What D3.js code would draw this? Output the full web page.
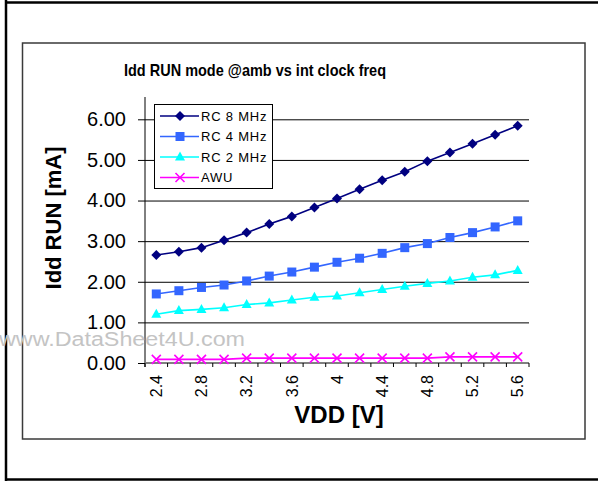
<!DOCTYPE html>
<html>
<head>
<meta charset="utf-8">
<script src="https://cdn.jsdelivr.net/npm/d3@7"></script>
<style>
  html, body { margin: 0; padding: 0; background: #fff; }
  svg { display: block; }
  text { font-family: "Liberation Sans", Arial, sans-serif; }
</style>
</head>
<body>
<svg id="chart" width="598" height="481"></svg>
<script>
const vdd = ["2.4","2.6","2.8","3","3.2","3.4","3.6","3.8","4","4.2","4.4","4.6","4.8","5","5.2","5.4","5.6"];
const shownLabels = ["2.4","2.8","3.2","3.6","4","4.4","4.8","5.2","5.6"];
const rc8 = [2.66,2.74,2.84,3.02,3.21,3.42,3.61,3.83,4.05,4.28,4.50,4.71,4.97,5.18,5.40,5.62,5.84];
const rc4 = [1.70,1.78,1.86,1.92,2.02,2.14,2.24,2.36,2.48,2.58,2.70,2.84,2.94,3.09,3.21,3.35,3.50];
const rc2 = [1.20,1.29,1.32,1.36,1.44,1.48,1.55,1.62,1.65,1.73,1.81,1.89,1.96,2.02,2.11,2.17,2.28];
const awu = [0.09,0.09,0.09,0.09,0.12,0.12,0.12,0.12,0.12,0.12,0.12,0.12,0.12,0.15,0.15,0.15,0.15];
const yTicks = [0,1,2,3,4,5,6];
const seriesNames = ["RC 8 MHz","RC 4 MHz","RC 2 MHz","AWU"];
const seriesColors = ["#000080","#3366FF","#00FFFF","#FF00FF"];
const seriesMarkers = ["diamond","square","triangle","cross"];
const title = "Idd RUN mode @amb vs int clock freq";
const xTitle = "VDD [V]";
const yTitle = "Idd RUN [mA]";

const series = [rc8, rc4, rc2, awu].map((vals, i) => ({
  name: seriesNames[i], color: seriesColors[i], marker: seriesMarkers[i], values: vals
}));

const svg = d3.select("#chart");

// outer frame (left, top, bottom)
svg.append("line").attr("x1", 6).attr("x2", 6).attr("y1", 0).attr("y2", 481).attr("stroke", "#000").attr("stroke-width", 2.5);
svg.append("line").attr("x1", 5).attr("x2", 598).attr("y1", 2.5).attr("y2", 2.5).attr("stroke", "#000").attr("stroke-width", 2.5);
svg.append("line").attr("x1", 5).attr("x2", 598).attr("y1", 479.5).attr("y2", 479.5).attr("stroke", "#000").attr("stroke-width", 2.5);

// chart box
svg.append("rect").attr("x", 22.5).attr("y", 43).attr("width", 562.5).attr("height", 396)
  .attr("fill", "#fff").attr("stroke", "#3a3a3a").attr("stroke-width", 1.5);

const pLeft = 145, pRight = 529, pTop = 99, pBottom = 363;
const x = d3.scaleBand().domain(vdd).range([pLeft, pRight]).padding(0);
const y = d3.scaleLinear().domain([0, 6.5]).range([pBottom, pTop]);

// title
svg.append("text").attr("x", 255).attr("y", 76).attr("text-anchor", "middle")
  .attr("font-size", 17).attr("font-weight", "bold")
  .attr("textLength", 262).attr("lengthAdjust", "spacingAndGlyphs").text(title);

// gridlines + y axis
const yAxis = d3.axisLeft(y).tickValues(yTicks).tickFormat(d3.format(".2f"))
  .tickSize(-(pRight - pLeft)).tickPadding(12);
const gy = svg.append("g").attr("transform", `translate(${pLeft},0)`).call(yAxis);
gy.select(".domain").remove();
gy.selectAll(".tick line").attr("stroke", "#000").attr("stroke-width", 1)
  .attr("x1", -7);
gy.selectAll(".tick text").attr("font-size", 20).attr("fill", "#000")
  .attr("font-family", "Liberation Sans, Arial, sans-serif").attr("x", -19);
svg.append("line").attr("x1", pLeft).attr("x2", pLeft).attr("y1", pTop - 2).attr("y2", pBottom + 4)
  .attr("stroke", "#000").attr("stroke-width", 1);

// x axis
svg.append("line").attr("x1", pLeft).attr("x2", pRight).attr("y1", pBottom).attr("y2", pBottom)
  .attr("stroke", "#808080").attr("stroke-width", 2);
const boundaries = vdd.map(v => x(v)).concat([x(vdd[vdd.length - 1]) + x.bandwidth()]);
svg.append("g").selectAll("line").data(boundaries).join("line")
  .attr("x1", d => d).attr("x2", d => d).attr("y1", pBottom).attr("y2", pBottom + 4)
  .attr("stroke", "#000").attr("stroke-width", 1);
svg.append("g").selectAll("text").data(shownLabels).join("text")
  .attr("transform", d => `translate(${x(d) + x.bandwidth() / 2},${pBottom + 12}) rotate(-90)`)
  .attr("text-anchor", "end").attr("dy", "0.36em")
  .attr("font-size", 16).text(d => d);

// axis titles
svg.append("text").attr("x", 339).attr("y", 423).attr("text-anchor", "middle")
  .attr("font-size", 24).attr("font-weight", "bold").text(xTitle);
svg.append("text").attr("transform", "translate(61,218) rotate(-90)").attr("text-anchor", "middle")
  .attr("font-size", 22).attr("font-weight", "bold").text(yTitle);

// markers
function drawMarker(g, type, color) {
  if (type === "diamond") {
    g.append("path").attr("d", "M0,-5L5,0L0,5L-5,0Z").attr("fill", color);
  } else if (type === "square") {
    g.append("rect").attr("x", -4.5).attr("y", -4.5).attr("width", 9).attr("height", 9).attr("fill", color);
  } else if (type === "triangle") {
    g.append("path").attr("d", "M0,-5.5L5,3.5L-5,3.5Z").attr("fill", color);
  } else {
    g.append("path").attr("d", "M-4.5,-4.5L4.5,4.5M-4.5,4.5L4.5,-4.5").attr("stroke", color).attr("stroke-width", 1.6).attr("fill", "none");
  }
}

const line = d3.line().x((d, i) => x(vdd[i]) + x.bandwidth() / 2).y(d => y(d));
series.forEach(s => {
  svg.append("path").datum(s.values).attr("d", line).attr("fill", "none")
    .attr("stroke", s.color).attr("stroke-width", 1.6);
  s.values.forEach((v, i) => {
    const g = svg.append("g").attr("transform", `translate(${x(vdd[i]) + x.bandwidth() / 2},${y(v)})`);
    drawMarker(g, s.marker, s.color);
  });
});

// legend
const lg = svg.append("g");
lg.append("rect").attr("x", 154.5).attr("y", 104.5).attr("width", 118).attr("height", 84)
  .attr("fill", "#fff").attr("stroke", "#000").attr("stroke-width", 1);
series.forEach((s, i) => {
  const cy = 116 + i * 20.5;
  lg.append("line").attr("x1", 160).attr("x2", 199).attr("y1", cy).attr("y2", cy)
    .attr("stroke", s.color).attr("stroke-width", 1.6);
  const g = lg.append("g").attr("transform", `translate(180,${cy})`);
  drawMarker(g, s.marker, s.color);
  lg.append("text").attr("x", 201).attr("y", cy).attr("dy", "0.36em")
    .attr("font-size", 13).attr("letter-spacing", 0.8).text(s.name);
});

// watermark
svg.append("text").attr("x", -1).attr("y", 346).attr("font-size", 20)
  .attr("fill", "#c4c4c4").attr("textLength", 246).attr("lengthAdjust", "spacingAndGlyphs")
  .text("www.DataSheet4U.com");
</script>
</body>
</html>
